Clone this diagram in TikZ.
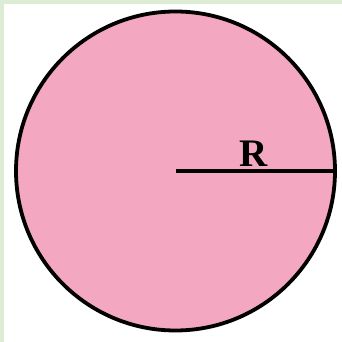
\documentclass[tikz,border=0pt]{standalone}
\usepackage{fontspec}
\setmainfont{Liberation Serif}
\usetikzlibrary{positioning}

\begin{document}
\begin{tikzpicture}[x=1pt, y=1pt]

% =======================================================
% Color definitions
% =======================================================
\definecolor{discpink}{HTML}{F4A7C1}   % disc fill
\definecolor{framegreen}{HTML}{DDEDD5} % frame strips

% =======================================================
% Layout parameters
% =======================================================
\def\pic{342}      % picture size
\def\rad{159.5}    % circle radius
\def\edge{4}       % frame strip width

% =======================================================
% Styles
% =======================================================
\tikzset{
  disc/.style  = {circle, draw=black, fill=discpink, line width=3.8,
                  minimum size=2*\rad, inner sep=0pt, outer sep=0pt},
  radius/.style = {line width=4},
  rlabel/.style = {inner sep=0pt, font=\bfseries\fontsize{39}{39}\selectfont},
}

% Background and frame
\fill[white] (0,0) rectangle (\pic,\pic);
\useasboundingbox (0,0) rectangle (\pic,\pic);
\fill[framegreen] (0,0) rectangle (\edge,\pic);
\fill[framegreen] (0,\pic-\edge) rectangle (\pic,\pic);

% Disc
\node[disc] (disc) at (175.5,171) {};

% Radius line: centre -> right edge
\draw[radius] (disc.center) -- (disc.east);

% Label
\node[rlabel] (rtxt) at (254,188) {R};

\end{tikzpicture}
\end{document}
